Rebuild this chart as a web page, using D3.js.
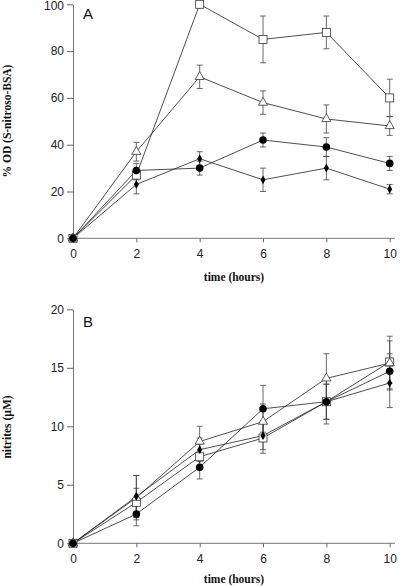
<!DOCTYPE html>
<html><head><meta charset="utf-8">
<script src="https://cdn.jsdelivr.net/npm/d3@7"></script>
<style>
html,body{margin:0;padding:0;background:#fff;}
svg{display:block;}
</style></head>
<body>
<script>
const hours = [0, 2, 4, 6, 8, 10];
const xTicks = [0, 2, 4, 6, 8, 10];
const yTicksA = [0, 20, 40, 60, 80, 100];
const yTicksB = [0, 5, 10, 15, 20];

// Panel A: % OD (S-nitroso-BSA)
const aSquare = [0, 27, 100, 85, 88, 60];
const aSquareErr = [0, 2, 0, 10, 7, 8];
const aTriangle = [0, 37, 69, 58, 51, 48];
const aTriangleErr = [0, 4, 5, 5, 6, 4];
const aCircle = [0, 29, 30, 42, 39, 32];
const aCircleErr = [0, 3, 3, 3, 4, 3];
const aDiamond = [0, 23, 34, 25, 30, 21];
const aDiamondErr = [0, 4, 3, 5, 5, 2];

// Panel B: nitrites (µM)
const bSquare = [0, 3.5, 7.4, 9.0, 12.1, 15.5];
const bSquareErr = [0, 1.2, 1.1, 1.3, 1.5, 1.8];
const bTriangle = [0, 3.9, 8.7, 10.4, 14.1, 15.4];
const bTriangleErr = [0, 1.9, 1.3, 1.5, 2.1, 2.3];
const bCircle = [0, 2.5, 6.5, 11.5, 12.1, 14.7];
const bCircleErr = [0, 1.0, 1.0, 2.0, 1.5, 1.5];
const bDiamond = [0, 4.0, 8.0, 9.2, 12.1, 13.7];
const bDiamondErr = [0, 1.8, 1.0, 1.2, 1.9, 2.1];

const W = 400, H = 586;
const svg = d3.select("body").append("svg").attr("width", W).attr("height", H);

const x = d3.scaleLinear().domain([0, 10]).range([73, 389.7]);

function panel(cfg) {
  const y = d3.scaleLinear().domain(cfg.domain).range(cfg.range);
  const g = svg.append("g");
  const xAxis = g.append("g").attr("transform", `translate(0,${cfg.range[0]})`)
    .call(d3.axisBottom(x).tickValues(xTicks).tickSize(4).tickPadding(7).tickSizeOuter(0));
  xAxis.select(".domain").remove();
  g.append("line").attr("x1", x(0)).attr("x2", 395).attr("y1", cfg.range[0]).attr("y2", cfg.range[0])
    .attr("stroke", "#777").attr("stroke-width", 1);
  const yAxis = g.append("g").attr("transform", `translate(${x(0)},0)`)
    .call(d3.axisLeft(y).tickValues(cfg.yTicks).tickSize(6).tickPadding(3).tickSizeOuter(0));
  yAxis.select(".domain").attr("stroke", "#777");
  [xAxis, yAxis].forEach(a => {
    a.selectAll(".tick line").attr("stroke", "#666");
    a.selectAll(".tick text").attr("font-family", "Arial, 'Liberation Sans', sans-serif")
      .attr("font-size", 12).attr("fill", "#222");
  });
  // keep the top tick label inside the picture
  yAxis.selectAll(".tick text").filter(d => y(d) < 8).attr("dy", "0.42em");
  g.append("text").attr("x", 83).attr("y", cfg.letterY).text(cfg.letter)
    .attr("font-family", "Arial, 'Liberation Sans', sans-serif").attr("font-size", 15).attr("fill", "#111");
  g.append("text").attr("x", 234).attr("y", cfg.xTitleY).attr("text-anchor", "middle")
    .text("time (hours)").attr("font-family", "'Liberation Serif', 'Times New Roman', serif")
    .attr("font-weight", "bold").attr("font-size", 11.5).attr("fill", "#111");
  g.append("text").attr("transform", `translate(11,${cfg.yTitleMid}) rotate(-90)`).attr("text-anchor", "middle")
    .text(cfg.yTitle).attr("font-family", "'Liberation Serif', 'Times New Roman', serif")
    .attr("font-weight", "bold").attr("font-size", 11.5).attr("fill", "#111");

  const line = d3.line().x((d, i) => x(hours[i])).y(d => y(d));
  cfg.series.forEach(s => {
    s.values.forEach((v, i) => {
      const e = s.err[i];
      if (!e) return;
      const cx = x(hours[i]);
      const bot = y(v - e);
      g.append("line").attr("x1", cx).attr("x2", cx).attr("y1", y(v + e)).attr("y2", bot)
        .attr("stroke", "#444").attr("stroke-width", 0.8);
      [y(v + e), bot].forEach(yy => g.append("line").attr("x1", cx - 3).attr("x2", cx + 3)
        .attr("y1", yy).attr("y2", yy).attr("stroke", "#444").attr("stroke-width", 0.8));
    });
    g.append("path").datum(s.values).attr("d", line).attr("fill", "none")
      .attr("stroke", "#222").attr("stroke-width", 0.8);
  });
  cfg.series.forEach(s => {
    s.values.forEach((v, i) => {
      const cx = x(hours[i]), cy = y(v);
      if (s.shape === "square") {
        g.append("rect").attr("x", cx - 4).attr("y", cy - 4).attr("width", 8).attr("height", 8)
          .attr("fill", "#fff").attr("stroke", "#333").attr("stroke-width", 0.8);
      } else if (s.shape === "triangle") {
        g.append("path").attr("d", d3.symbol(d3.symbolTriangle, 36)()).attr("transform", `translate(${cx},${cy})`)
          .attr("fill", "#fff").attr("stroke", "#333").attr("stroke-width", 0.8);
      } else if (s.shape === "circle") {
        g.append("circle").attr("cx", cx).attr("cy", cy).attr("r", 3.8).attr("fill", "#000");
      } else {
        g.append("path").attr("d", d3.symbol(d3.symbolDiamond, 22)()).attr("transform", `translate(${cx},${cy})`)
          .attr("fill", "#000");
      }
    });
  });
}

panel({
  domain: [0, 100], range: [238.3, 4.3], yTicks: yTicksA, letter: "A", letterY: 19,
  xTitleY: 281, yTitle: "% OD (S-nitroso-BSA)", yTitleMid: 121,
  series: [
    {values: aSquare, err: aSquareErr, shape: "square"},
    {values: aTriangle, err: aTriangleErr, shape: "triangle"},
    {values: aCircle, err: aCircleErr, shape: "circle"},
    {values: aDiamond, err: aDiamondErr, shape: "diamond"}
  ]
});
panel({
  domain: [0, 20], range: [543.3, 309.3], yTicks: yTicksB, letter: "B", letterY: 327,
  xTitleY: 583, yTitle: "nitrites (\u00b5M)", yTitleMid: 427,
  series: [
    {values: bSquare, err: bSquareErr, shape: "square"},
    {values: bTriangle, err: bTriangleErr, shape: "triangle"},
    {values: bCircle, err: bCircleErr, shape: "circle"},
    {values: bDiamond, err: bDiamondErr, shape: "diamond"}
  ]
});
</script>
</body></html>
